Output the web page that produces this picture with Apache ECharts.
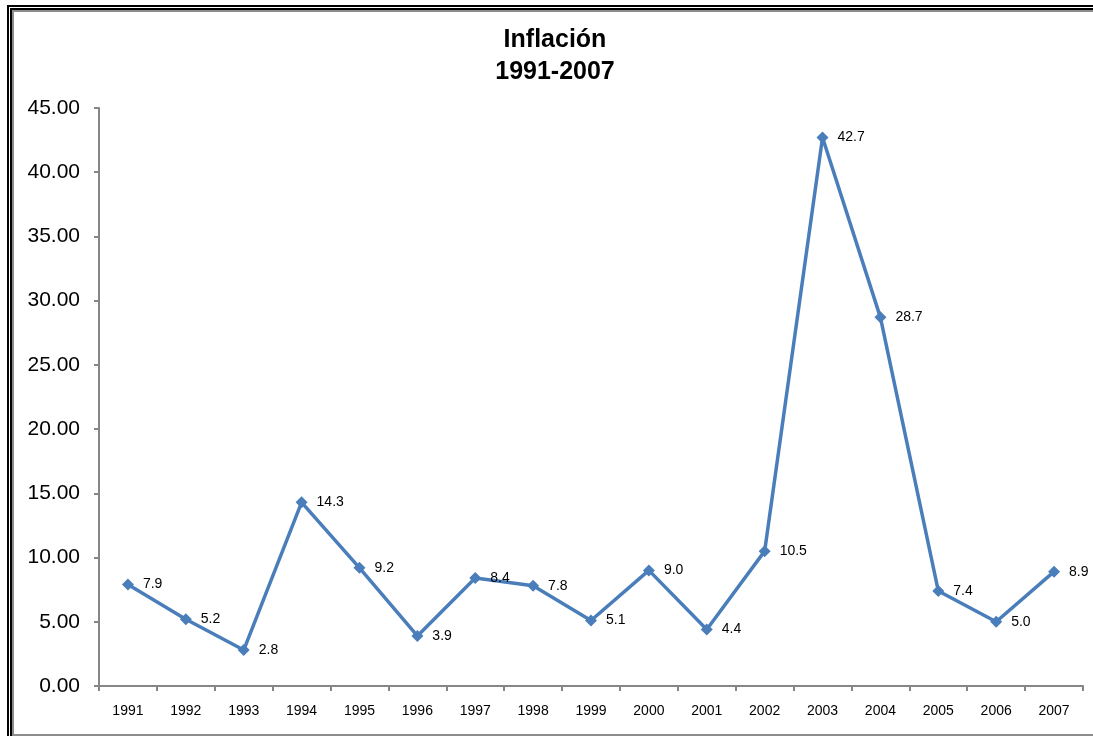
<!DOCTYPE html>
<html>
<head>
<meta charset="utf-8">
<script src="https://cdn.jsdelivr.net/npm/echarts@6/dist/echarts.min.js"></script>
<style>
  html, body { margin: 0; padding: 0; background: #fff; }
  #chart { width: 1093px; height: 736px; }
  .frame {
    position: absolute; left: 7px; top: 5px; width: 1100px; height: 726px;
    border-left: 5px double #000; border-top: 5px double #000; border-bottom: 3px solid #000;
    box-shadow: inset 2px 2px 0 #8c8c8c, inset 0 -2px 0 #8c8c8c;
    pointer-events: none;
  }
</style>
</head>
<body>
<div id="chart"></div>
<div class="frame"></div>
<script>
// datos
const years = ['1991', '1992', '1993', '1994', '1995', '1996', '1997', '1998', '1999',
  '2000', '2001', '2002', '2003', '2004', '2005', '2006', '2007'];
const inflacion = [7.9, 5.2, 2.8, 14.3, 9.2, 3.9, 8.4, 7.8, 5.1, 9.0, 4.4, 10.5, 42.7, 28.7, 7.4, 5.0, 8.9];

const chart = echarts.init(document.getElementById('chart'));
const axisColor = '#868686';

chart.setOption({
  animation: false,
  title: {
    text: 'Inflación\n1991-2007',
    left: 550,
    top: 19,
    textAlign: 'center',
    textStyle: {
      fontFamily: 'Liberation Sans, Arial, sans-serif',
      fontWeight: 'bold',
      fontSize: 25,
      lineHeight: 32,
      color: '#000'
    }
  },
  grid: { left: 99, right: 10, top: 108, bottom: 50 },
  xAxis: {
    type: 'category',
    data: years,
    boundaryGap: true,
    axisLine: { lineStyle: { color: axisColor, width: 2 } },
    axisTick: { show: true, length: 5, lineStyle: { color: axisColor, width: 2 } },
    axisLabel: {
      color: '#000', fontSize: 14, margin: 18,
      fontFamily: 'Liberation Sans, Arial, sans-serif'
    },
    splitLine: { show: false }
  },
  yAxis: {
    type: 'value',
    min: 0,
    max: 45,
    interval: 5,
    axisLine: { show: true, lineStyle: { color: axisColor, width: 2 } },
    axisTick: { show: true, length: 5, lineStyle: { color: axisColor, width: 2 } },
    axisLabel: {
      color: '#000', fontSize: 21, margin: 19,
      fontFamily: 'Liberation Sans, Arial, sans-serif',
      formatter: v => v.toFixed(2)
    },
    splitLine: { show: false }
  },
  series: [{
    type: 'line',
    data: inflacion,
    symbol: 'diamond',
    symbolSize: 12,
    itemStyle: { color: '#4a7ebb' },
    lineStyle: { color: '#4a7ebb', width: 3.5 },
    label: {
      show: true,
      position: 'right',
      distance: 9,
      color: '#000',
      fontSize: 14,
      fontFamily: 'Liberation Sans, Arial, sans-serif',
      formatter: p => p.value.toFixed(1)
    }
  }]
});
</script>
</body>
</html>
